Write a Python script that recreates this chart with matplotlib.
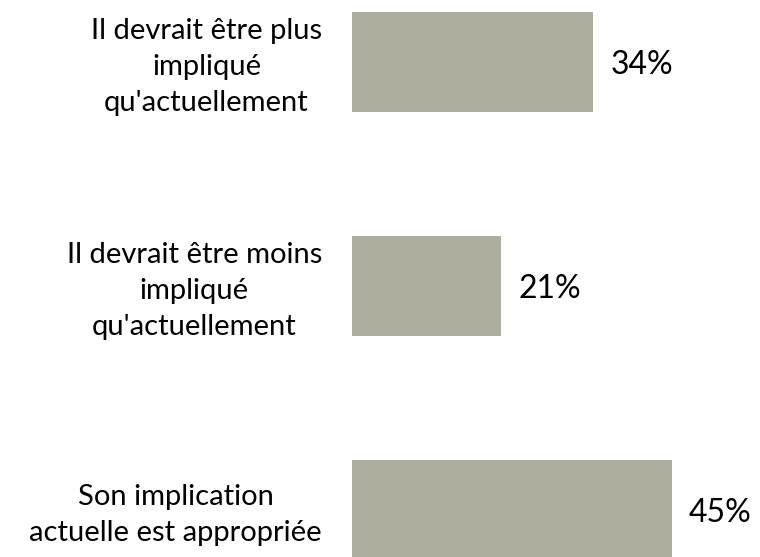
import matplotlib.pyplot as plt

# Survey answers, top to bottom
categories = ["Il devrait être plus\nimpliqué\nqu'actuellement",
              "Il devrait être moins\nimpliqué\nqu'actuellement",
              "Son implication\nactuelle est appropriée"]
values = [34, 21, 45]
value_labels = ["34%", "21%", "45%"]

plt.rcParams['font.family'] = ['Lato', 'DejaVu Sans']

fig = plt.figure(figsize=(7.6, 5.57), dpi=100)
ax = fig.add_axes([352 / 760, 0, 1 - 352 / 760, 1])

ypos = list(range(len(values)))
ax.barh(ypos, values, height=100 / 224, color='#adae9e')

ax.set_xlim(0, 408 / 7.1)
ax.set_ylim(-62 / 224 + 557 / 224, -62 / 224)

for y, v, lab in zip(ypos, values, value_labels):
    ax.annotate(lab, (v, y), xytext=(17, -3), textcoords='offset pixels',
                ha='left', va='center', fontsize=23, color='black')

for y, cat in zip(ypos, categories):
    ax.annotate(cat, (0, y), xytext=(-30, -5), textcoords='offset pixels',
                ha='right', va='center', multialignment='center',
                fontsize=21, color='black', linespacing=1.48,
                annotation_clip=False)

ax.axis('off')

plt.savefig("out.png", dpi=100)
